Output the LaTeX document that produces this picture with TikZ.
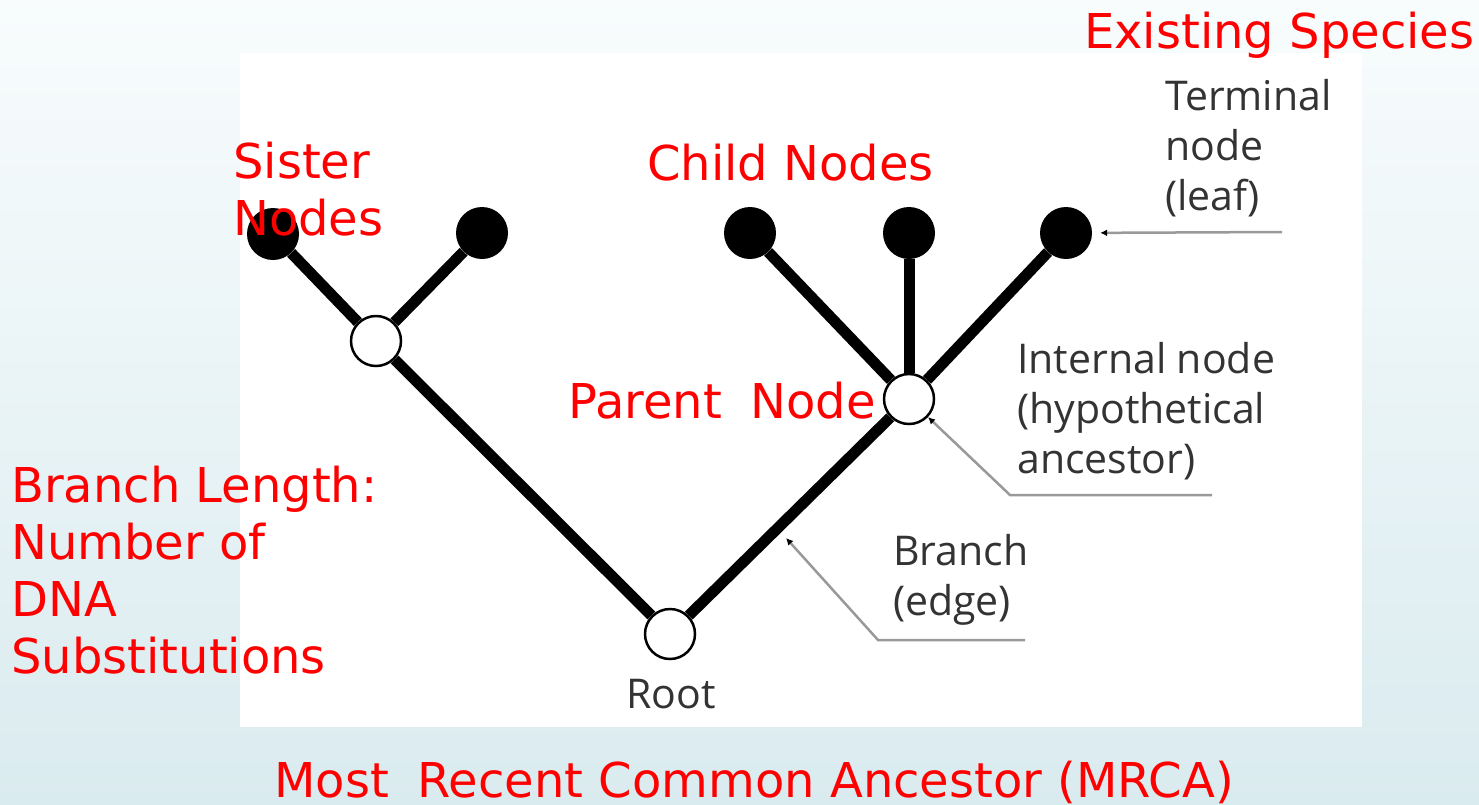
\documentclass[tikz,border=0pt]{standalone}
\usepackage{fontspec}
\setmainfont{DejaVu Sans}
\newfontfamily\capfont{Open Sans}
\usepackage{tikz}
\usetikzlibrary{shapes,arrows.meta,positioning,calc}
\definecolor{bgtop}{HTML}{F8FCFD}
\definecolor{bgbot}{HTML}{DAEBEF}
\definecolor{tagred}{HTML}{FF0000}
\definecolor{capgray}{HTML}{333333}
\definecolor{leadgray}{HTML}{999999}
\tikzstyle{leaf} = [circle, fill=black, inner sep=0pt, minimum size=52pt]
\tikzstyle{anc} = [circle, draw=black, line width=2.5pt, fill=white, inner sep=0pt, minimum size=50pt]
\tikzstyle{edge} = [draw, line width=11pt]
\tikzstyle{leader} = [draw=leadgray, line width=2.5pt, -{Latex[length=7pt,width=7pt,color=black]}]
\tikzstyle{tag} = [text=tagred, font=\fontsize{48}{57}\selectfont, align=left, inner sep=0pt, anchor=base west]
\tikzstyle{capnote} = [text=capgray, font=\capfont\fontsize{41}{50}\selectfont, align=left, inner sep=0pt, anchor=base west]

\begin{document}
\begin{tikzpicture}[x=1pt, y=-1pt]
    \useasboundingbox (0,0) rectangle (1479,804);
    \shade [top color=bgtop, bottom color=bgbot] (0,0) rectangle (1479,804);
    \fill [white] (240,53) rectangle (1362,727);

    % tree
    \node [leaf] (l1) at (273,234) {};
    \node [leaf] (l2) at (482,233) {};
    \node [leaf] (l3) at (750,233) {};
    \node [leaf] (l4) at (909,233) {};
    \node [leaf] (l5) at (1066,233) {};
    \node [anc] (a1) at (376,341) {};
    \node [anc] (a2) at (909,399) {};
    \node [anc] (root) at (670,634) {};

    \path [edge] (l1) -- (a1);
    \path [edge] (l2) -- (a1);
    \path [edge] (l3) -- (a2);
    \path [edge] (l4) -- (a2);
    \path [edge] (l5) -- (a2);
    \path [edge] (a1) -- (root);
    \path [edge] (a2) -- (root);

    % grey labels and leaders (anchored on the last line)
    \node [capnote] (tcap) at (1165,210) {Terminal\\node\\(leaf)};
    \node [capnote] (icap) at (1017,473) {Internal node\\(hypothetical\\ancestor)};
    \node [capnote] (bcap) at (893,615) {Branch\\(edge)};
    \node [capnote, anchor=base] (rcap) at (671,708) {Root};

    \coordinate (tl) at (1282,232);
    \coordinate (il) at (1212,495);
    \coordinate (ik) at (1010,495);
    \coordinate (bl) at (1025,640);
    \coordinate (bk) at (878,640);
    \coordinate (bt) at (786,538);
    \path [leader, shorten >=8pt] (tl) -- (l5);
    \path [leader] (il) -- (ik) -- (a2);
    \path [leader] (bl) -- (bk) -- (bt);

    % red notes
    \node [tag] (exist) at (1084,48) {Existing Species};
    \node [tag] (sister) at (233,235) {Sister\\Nodes};
    \node [tag] (child) at (647,180) {Child Nodes};
    \node [tag] (parent) at (568,418) {Parent\hspace{0.6em}Node};
    \node [tag] (blen) at (11,673) {Branch Length:\\Number of\\DNA\\Substitutions};
    \node [tag] (mrca) at (274,797) {Most\hspace{0.6em}Recent Common Ancestor (MRCA)};
\end{tikzpicture}
\end{document}
